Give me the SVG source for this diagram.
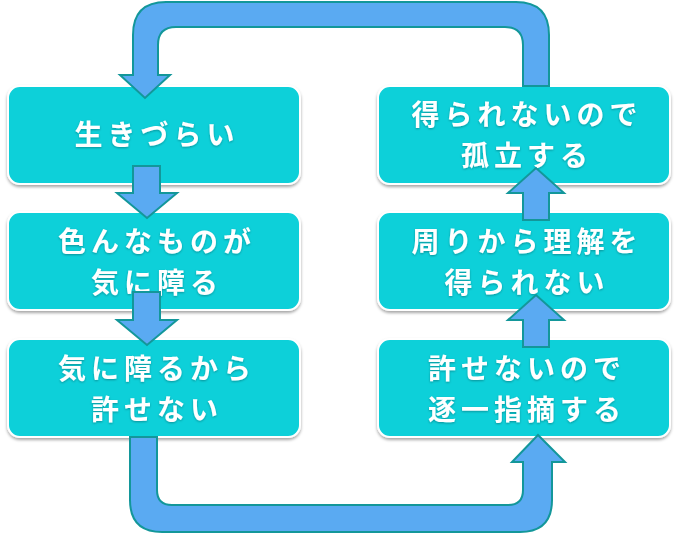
<svg xmlns="http://www.w3.org/2000/svg" width="680" height="534" viewBox="0 0 680 534">
<defs>
<filter id="sh" x="-10%" y="-10%" width="120%" height="130%"><feDropShadow dx="0" dy="2" stdDeviation="1.5" flood-color="#000" flood-opacity="0.35"/></filter>
<filter id="ts"><feDropShadow dx="0" dy="1" stdDeviation="1" flood-color="#000" flood-opacity="0.3"/></filter>
</defs>
<style>
.box{fill:#0bd0d9;stroke:#fff;stroke-width:2;filter:url(#sh)}
.t{font-family:"Noto Sans CJK JP",sans-serif;font-weight:bold;font-size:28px;letter-spacing:5px;fill:#fff;text-anchor:middle;filter:url(#ts)}
.ar{fill:#5aaaf2;stroke:#13979a;stroke-width:2;stroke-linejoin:miter}
</style>
<g id="n1"><rect class="box" x="8" y="86" width="292" height="98" rx="12"/><text class="t" x="157" y="145">生きづらい</text></g>
<g id="n2"><rect class="box" x="8" y="212" width="292" height="98" rx="12"/><text class="t" x="157" y="252">色んなものが</text><text class="t" x="157" y="293">気に障る</text></g>
<g id="n3"><rect class="box" x="8" y="339" width="292" height="98" rx="12"/><text class="t" x="157" y="379">気に障るから</text><text class="t" x="157" y="420">許せない</text></g>
<g id="n4"><rect class="box" x="378" y="339" width="292" height="98" rx="12"/><text class="t" x="527" y="379">許せないので</text><text class="t" x="527" y="420">逐一指摘する</text></g>
<g id="n5"><rect class="box" x="378" y="212" width="292" height="98" rx="12"/><text class="t" x="527" y="252">周りから理解を</text><text class="t" x="527" y="293">得られない</text></g>
<g id="n6"><rect class="box" x="378" y="86" width="292" height="98" rx="12"/><text class="t" x="527" y="125">得られないので</text><text class="t" x="527" y="166">孤立する</text></g>
<g id="connectors">
<path class="ar" d="M523,86 V45 Q523,27 505,27 H176 Q158,27 158,45 V75 H170 L145,98 L120,75 H133 V35 Q133,2 166,2 H516 Q549,2 549,35 V86 Z"/>
<path class="ar" d="M130,437 V500 Q130,532 162,532 H520 Q552,532 552,500 V462 H565 L538,435 L512,462 H523 V490 Q523,505 508,505 H172 Q157,505 157,490 V437 Z"/>
<path class="ar" d="M133,166 H160 V193 H177 L147,218 L117,193 H133 Z"/>
<path class="ar" d="M133,292 H160 V320 H177 L147,345 L117,320 H133 Z"/>
<path class="ar" d="M523,220 H549 V193 H564 L536,168 L508,193 H523 Z"/>
<path class="ar" d="M523,347 H549 V320 H564 L536,295 L508,320 H523 Z"/>
</g>
</svg>
